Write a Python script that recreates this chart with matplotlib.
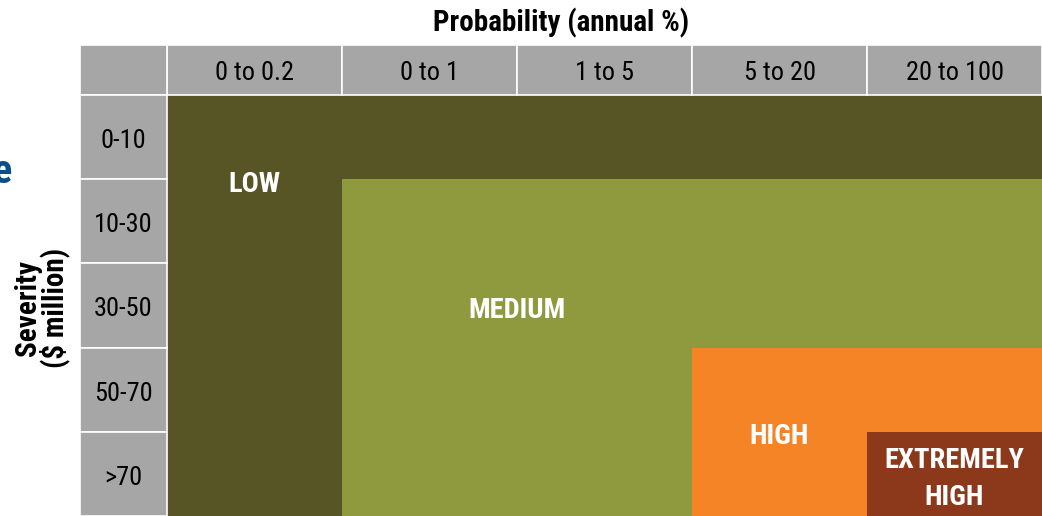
import matplotlib
matplotlib.use('Agg')
import matplotlib.pyplot as plt
from matplotlib.colors import ListedColormap
from matplotlib.patches import Rectangle
from matplotlib import font_manager
import numpy as np

# Probability buckets (columns) and severity buckets (rows)
prob_labels = ['0 to 0.2', '0 to 1', '1 to 5', '5 to 20', '20 to 100']
sev_labels = ['0-10', '10-30', '30-50', '50-70', '>70']

# risk level per cell: 0 low, 1 medium, 2 high, 3 extremely high
risk = [
    [0, 0, 0, 0, 0],
    [0, 1, 1, 1, 1],
    [0, 1, 1, 1, 1],
    [0, 1, 1, 2, 2],
    [0, 1, 1, 2, 3],
]
level_names = ['LOW', 'MEDIUM', 'HIGH', 'EXTREMELY\nHIGH']
level_colors = ['#575425', '#8f9a3f', '#f58426', '#8b391a']
# where each level name sits (column, row) in cell units
level_pos = [(0.5, 1.0), (2.0, 2.5), (3.5, 4.0), (4.5, 4.5)]

W, H = 1042, 516
installed = {f.name for f in font_manager.fontManager.ttflist}
fam = [f for f in ['Roboto Condensed', 'Liberation Sans Narrow', 'Open Sans']
       if f in installed] + ['DejaVu Sans']
narrow = fam[0] != 'Open Sans'
fs = 19 if narrow else 15.5
gray = '#a6a6a6'

fig = plt.figure(figsize=(W / 100, H / 100), dpi=100)
ax = fig.add_axes([167 / W, 0, 1 - 167 / W, (516 - 95) / H])

ax.pcolormesh(np.arange(6), np.arange(6), np.array(risk),
              cmap=ListedColormap(level_colors), vmin=-0.5, vmax=3.5,
              edgecolors='none')
ax.set_xlim(0, 5)
ax.set_ylim(5, 0)
ax.axis('off')

col_w = 175.0
row_h = (516 - 95) / 5
px = 1 / row_h  # one pixel in row units
head_h = 50 / row_h
left_w = 87 / col_w

# header row
for i, lab in enumerate(prob_labels):
    ax.add_patch(Rectangle((i, -head_h), 1, head_h, facecolor=gray,
                           edgecolor='white', lw=1.2, clip_on=False))
    ax.text(i + 0.5, -head_h / 2 + 3 * px, lab, ha='center', va='center',
            fontsize=fs, family=fam, color='black')
ax.add_patch(Rectangle((-left_w, -head_h), left_w, head_h, facecolor=gray,
                       edgecolor='white', lw=1.2, clip_on=False))

# severity column
for j, lab in enumerate(sev_labels):
    ax.add_patch(Rectangle((-left_w, j), left_w, 1, facecolor=gray,
                           edgecolor='white', lw=1.2, clip_on=False))
    ax.text(-left_w / 2, j + 0.5 + 4 * px, lab, ha='center', va='center',
            fontsize=fs, family=fam, color='black')

# region names
for name, (x, y) in zip(level_names, level_pos):
    ax.text(x, y + 5 * px, name, ha='center', va='center', fontsize=fs + 1.5,
            fontweight='bold', family=fam, color='white', linespacing=1.45)

fig.text(561 / W, 1 - 23 / H, 'Probability (annual %)', ha='center',
         va='center', fontsize=fs + 2, fontweight='bold', family=fam)
fig.text(42 / W, 1 - 308 / H, 'Severity\n($ million)', ha='center',
         va='center', rotation=90, fontsize=fs + 2, fontweight='bold',
         family=fam, linespacing=0.85)
fig.text(-8 / W, 1 - 172 / H, 'e', ha='left', va='center', fontsize=fs + 10,
         fontweight='bold', family=fam, color='#0b4f8a')

fig.savefig('out.png', dpi=100)
